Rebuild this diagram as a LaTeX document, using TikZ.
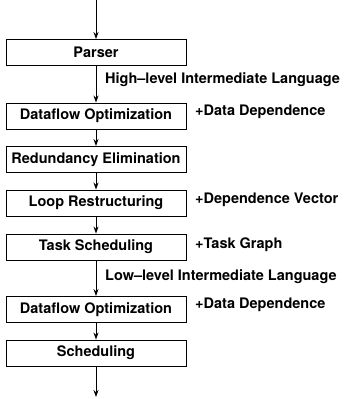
\documentclass[tikz,border=0pt]{standalone}
\usepackage{fontspec}
\setmainfont{TeX Gyre Heros}
\usetikzlibrary{arrows.meta}
\begin{document}
\begin{tikzpicture}[x=1pt,y=1pt,
  font=\fontsize{14.5}{16}\selectfont\bfseries,
  stage/.style={draw, line width=0.9pt, minimum width=180pt, minimum height=26pt,
                inner sep=0pt, anchor=center},
  note/.style={anchor=west, inner sep=0pt},
  flow/.style={line width=0.9pt, -{Stealth[length=7pt,width=5pt]}}]
\useasboundingbox (0,0) rectangle (346,-399);

% compiler stages
\node[stage] (parser) at (96,-52.5) {Parser};
\node[stage] (df1)    at (96,-116)  {Dataflow Optimization};
\node[stage] (red)    at (96,-159.5){Redundancy Elimination};
\node[stage] (loop)   at (96,-203)  {Loop Restructuring};
\node[stage] (task)   at (96,-247)  {Task Scheduling};
\node[stage] (df2)    at (96,-309.5){Dataflow Optimization};
\node[stage] (sched)  at (96,-353)  {Scheduling};

\coordinate (in)  at (96,0);
\coordinate (out) at (96,-397);

% flow between stages
\draw[flow] (in) -- (parser.north);
\draw[flow] (parser.south) -- (df1.north);
\draw[flow] (df1.south) -- (red.north);
\draw[flow] (red.south) -- (loop.north);
\draw[flow] (loop.south) -- (task.north);
\draw[flow] (task.south) -- (df2.north);
\draw[flow] (df2.south) -- (sched.north);
\draw[flow] (sched.south) -- (out);

% annotations
\node[note] (hil) at (105,-80)  {High--level Intermediate Language};
\node[note] (dd1) at (195,-112) {+Data Dependence};
\node[note] (dv)  at (195,-200) {+Dependence Vector};
\node[note] (tg)  at (195,-245) {+Task Graph};
\node[note] (lil) at (105,-277) {Low--level Intermediate Language};
\node[note] (dd2) at (195,-305) {+Data Dependence};
\end{tikzpicture}
\end{document}
